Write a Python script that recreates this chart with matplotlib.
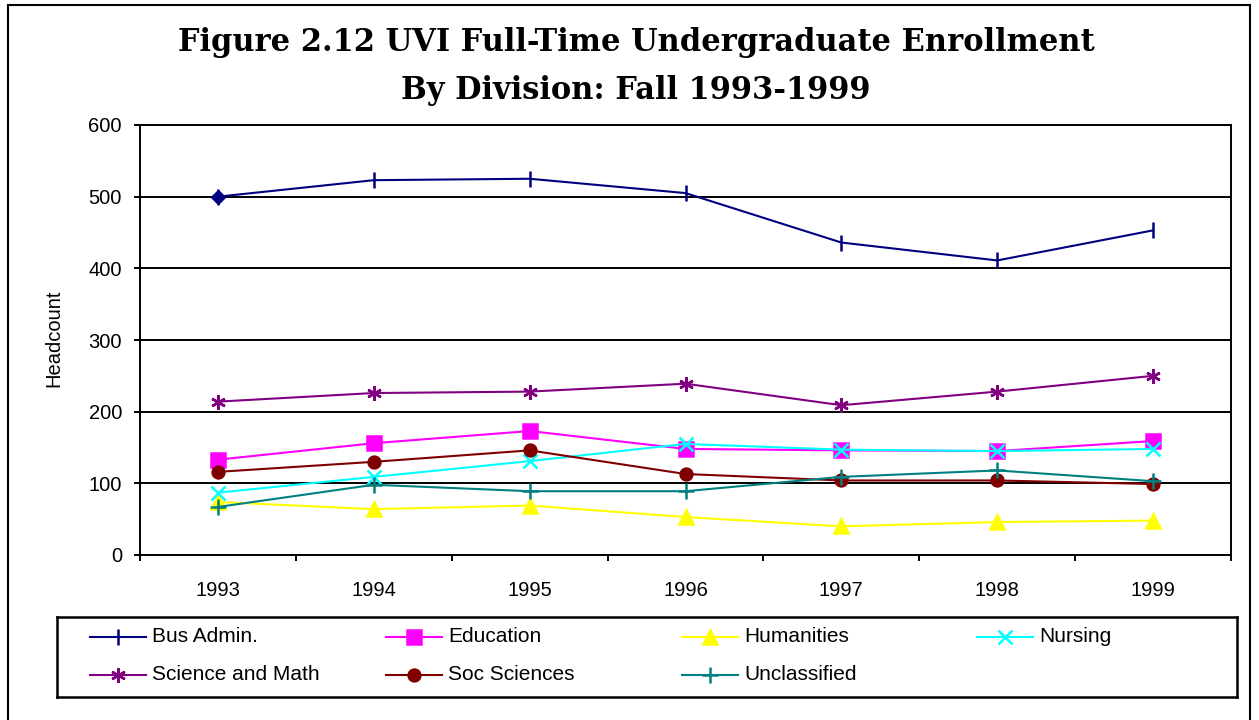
import matplotlib
matplotlib.use("Agg")
import matplotlib.pyplot as plt
from matplotlib.patches import Rectangle

years = ["1993", "1994", "1995", "1996", "1997", "1998", "1999"]

bus_admin = [500, 523, 525, 505, 436, 411, 453]
education = [133, 156, 173, 148, 146, 145, 159]
humanities = [74, 64, 69, 53, 40, 46, 48]
nursing = [87, 109, 131, 155, 147, 145, 148]
science_math = [214, 226, 228, 239, 209, 228, 250]
soc_sciences = [116, 130, 146, 113, 104, 104, 99]
unclassified = [67, 98, 89, 89, 109, 118, 103]

names = ["Bus Admin.", "Education", "Humanities", "Nursing",
         "Science and Math", "Soc Sciences", "Unclassified"]
values = [bus_admin, education, humanities, nursing,
          science_math, soc_sciences, unclassified]
colors = ["#000080", "#FF00FF", "#FFFF00", "#00FFFF",
          "#800080", "#800000", "#008080"]
markers = ["|", "s", "^", "x", (6, 2, 0), "o", "+"]
msizes = [12, 9.5, 10, 10, 10.5, 8.5, 11]

plt.rcParams['font.family'] = ['Liberation Sans', 'DejaVu Sans']

W, H = 1259, 720
fig = plt.figure(figsize=(W / 100, H / 100), dpi=100)

# outer frame
fig.add_artist(Rectangle((8 / W, -0.02), (1250 - 8) / W, 1 - 5 / H + 0.02,
                         transform=fig.transFigure, fill=False,
                         edgecolor="black", lw=1.5))

fig.text(636 / W, 1 - 51 / H, "Figure 2.12 UVI Full-Time Undergraduate Enrollment",
         family="DejaVu Serif", weight="bold", fontsize=22, ha="center", va="baseline")
fig.text(636 / W, 1 - 99 / H, "By Division: Fall 1993-1999",
         family="DejaVu Serif", weight="bold", fontsize=22, ha="center", va="baseline")

ax = fig.add_axes([140 / W, (H - 555) / H, (1231 - 140) / W, (555 - 125) / H])
x = list(range(len(years)))
for name, vals, c, m, ms in zip(names, values, colors, markers, msizes):
    ax.plot(x, vals, color=c, lw=1.5, marker=m, ms=ms, mew=1.8,
            mfc=c, mec=c, zorder=3)
# Excel drew the first Bus Admin. point as a diamond
ax.plot(x[:1], bus_admin[:1], "D", color=colors[0], ms=7, zorder=4)

ax.set_xlim(-0.5, len(years) - 0.5)
ax.set_ylim(0, 600)
ax.set_yticks(range(0, 601, 100))
ax.set_xticks(x)
ax.set_xticklabels(years)
ax.set_xticks([i - 0.5 for i in range(len(years) + 1)], minor=True)
ax.tick_params(axis="x", which="major", length=0, pad=19, labelsize=14.5)
ax.tick_params(axis="x", which="minor", length=4.5, width=1.4, direction="out")
ax.tick_params(axis="y", length=4, width=1.4, pad=9, labelsize=14.5)
ax.grid(axis="y", color="black", lw=1.4)
ax.set_axisbelow(True)
for s in ax.spines.values():
    s.set_linewidth(1.4)
ax.set_ylabel("Headcount", fontsize=14.5)
ax.yaxis.set_label_coords((63 - 140) / 1091, 0.505)

# legend box drawn by hand to keep Excel's fixed column layout
lg = fig.add_axes([57 / W, (H - 697) / H, (1237 - 57) / W, (697 - 617) / H])
lg.set_xlim(57, 1237)
lg.set_ylim(697, 617)
lg.set_xticks([])
lg.set_yticks([])
for s in lg.spines.values():
    s.set_linewidth(1.8)
col_x = [90, 386, 682, 977]
row_y = [637, 675]
for k, name in enumerate(names):
    cx = col_x[k % 4]
    cy = row_y[k // 4]
    lg.plot([cx, cx + 56], [cy, cy], color=colors[k], lw=1.5)
    lg.plot([cx + 28], [cy], marker=markers[k], ms=msizes[k], mew=1.8,
            color=colors[k], mfc=colors[k], mec=colors[k])
    lg.text(cx + 62, cy, name, fontsize=15, va="center", ha="left")

fig.savefig("out.png", dpi=100)
